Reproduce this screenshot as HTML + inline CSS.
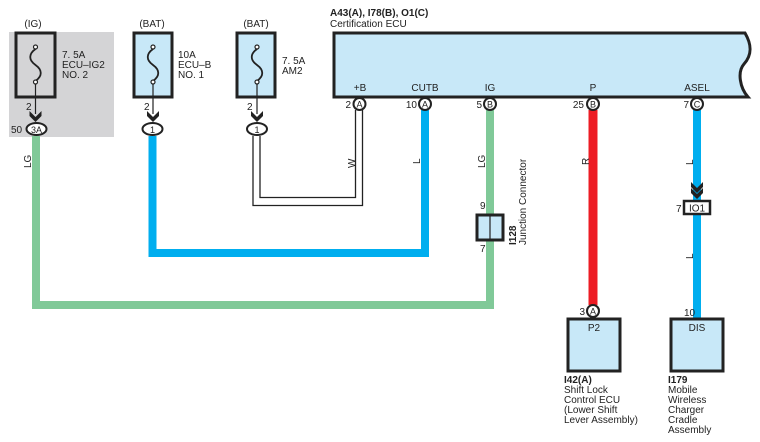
<!DOCTYPE html>
<html><head><meta charset="utf-8"><style>
html,body{margin:0;padding:0;background:#fff;}
svg{display:block;font-family:"Liberation Sans",sans-serif;}
</style></head><body>
<svg width="760" height="442" viewBox="0 0 760 442" xmlns="http://www.w3.org/2000/svg">
<defs>
<g id="fuse"><path d="M0,-13 c-7,5 -7,11 0,16 c7,5 7,11 0,16" fill="none" stroke="#222" stroke-width="1.8"/><circle cx="0" cy="-15" r="2" fill="#fff" stroke="#222" stroke-width="1.2"/><circle cx="0" cy="20" r="2" fill="#fff" stroke="#222" stroke-width="1.2"/></g>
<g id="chev"><path d="M-6,-5 L0,1 L6,-5 L6,0 L0,6 L-6,0 Z" fill="#222"/></g>
</defs>
<rect x="9" y="32" width="105" height="105" fill="#d4d4d6"/>
<path d="M36,136 V305 H490 V110" fill="none" stroke="#80c998" stroke-width="8"/>
<path d="M152.5,136 V253 H425 V110" fill="none" stroke="#00aeef" stroke-width="8"/>
<path d="M253,136 V205.5 H362.5 V110" fill="none" stroke="#222" stroke-width="1.3"/>
<path d="M260,136 V197.5 H355.5 V110" fill="none" stroke="#222" stroke-width="1.3"/>
<path d="M593,110 V305" stroke="#ed1c24" stroke-width="9"/>
<path d="M697,110 V318" stroke="#00aeef" stroke-width="8"/>
<rect x="16" y="33" width="39" height="64" fill="#d4d4d6" stroke="#222" stroke-width="3"/>
<use href="#fuse" x="35.5" y="62"/>
<rect x="134" y="33" width="38" height="64" fill="#c8e8f8" stroke="#222" stroke-width="3"/>
<use href="#fuse" x="153" y="62"/>
<rect x="237" y="33" width="38" height="64" fill="#c8e8f8" stroke="#222" stroke-width="3"/>
<use href="#fuse" x="257" y="62"/>
<g stroke="#222" stroke-width="1.2"><line x1="35.5" y1="84" x2="35.5" y2="114"/><line x1="153" y1="84" x2="153" y2="114"/><line x1="257" y1="84" x2="257" y2="114"/></g>
<use href="#chev" x="35.5" y="116"/><use href="#chev" x="153" y="116"/><use href="#chev" x="257" y="116"/>
<ellipse cx="36.5" cy="129" rx="10" ry="6" fill="#fff" stroke="#222" stroke-width="2"/>
<ellipse cx="152.5" cy="129" rx="10" ry="6" fill="#fff" stroke="#222" stroke-width="2"/>
<ellipse cx="257" cy="129" rx="10" ry="6" fill="#fff" stroke="#222" stroke-width="2"/>
<g font-size="10" fill="#222">
<text x="33" y="27" text-anchor="middle">(IG)</text>
<text x="152" y="27" text-anchor="middle">(BAT)</text>
<text x="256" y="27" text-anchor="middle">(BAT)</text>
<text x="62" y="58">7. 5A</text><text x="62" y="68">ECU–IG2</text><text x="62" y="78">NO. 2</text>
<text x="178" y="58">10A</text><text x="178" y="68">ECU–B</text><text x="178" y="78">NO. 1</text>
<text x="282" y="64">7. 5A</text><text x="282" y="74">AM2</text>
<text x="26" y="110">2</text><text x="144" y="110">2</text><text x="247" y="110">2</text>
<text x="11" y="133">50</text>
<text x="36.5" y="133" text-anchor="middle" font-size="9">3A</text>
<text x="152.5" y="133" text-anchor="middle" font-size="9">1</text>
<text x="257" y="133" text-anchor="middle" font-size="9">1</text>
</g>
<path d="M334,33 H745 C752,45 752,55 744,64 C737,72 740,88 748,97 H334 Z" fill="#c8e8f8" stroke="#222" stroke-width="3"/>
<g font-size="10" fill="#222">
<text x="330" y="16" font-weight="bold">A43(A), I78(B), O1(C)</text>
<text x="330" y="27">Certification ECU</text>
<text x="360" y="91" text-anchor="middle">+B</text>
<text x="425" y="91" text-anchor="middle">CUTB</text>
<text x="490" y="91" text-anchor="middle">IG</text>
<text x="593" y="91" text-anchor="middle">P</text>
<text x="697" y="91" text-anchor="middle">ASEL</text>
</g>
<g fill="#fff" stroke="#222" stroke-width="2">
<circle cx="359.5" cy="104" r="6"/><circle cx="425" cy="104" r="6"/><circle cx="490" cy="104" r="6"/><circle cx="593" cy="104" r="6"/><circle cx="697" cy="104" r="6"/>
<circle cx="593" cy="311" r="6"/>
</g>
<g font-size="9" fill="#222" text-anchor="middle">
<text x="359.5" y="107.5">A</text><text x="425" y="107.5">A</text><text x="490" y="107.5">B</text><text x="593" y="107.5">B</text><text x="697" y="107.5">C</text>
<text x="593" y="314.5">A</text>
</g>
<g font-size="10" fill="#222" text-anchor="end">
<text x="351" y="108">2</text><text x="417" y="108">10</text><text x="482" y="108">5</text><text x="584" y="108">25</text><text x="689" y="108">7</text>
<text x="585" y="315">3</text>
</g>
<g font-size="10" fill="#222">
<text transform="translate(31,168) rotate(-90)">LG</text>
<text transform="translate(355,168) rotate(-90)">W</text>
<text transform="translate(420,164) rotate(-90)">L</text>
<text transform="translate(485,168) rotate(-90)">LG</text>
<text transform="translate(589,165) rotate(-90)">R</text>
<text transform="translate(693,165) rotate(-90)">L</text>
<text transform="translate(693,259) rotate(-90)">L</text>
</g>
<rect x="477" y="215" width="26" height="25" fill="#c8e8f8" stroke="#222" stroke-width="3"/>
<line x1="490" y1="215" x2="490" y2="240" stroke="#222" stroke-width="1.2"/>
<g font-size="10" fill="#222">
<text x="480" y="209">9</text><text x="480" y="252">7</text>
<text transform="translate(516,245) rotate(-90)" font-weight="bold">I128</text>
<text transform="translate(526,245) rotate(-90)">Junction Connector</text>
</g>
<use href="#chev" x="697" y="187"/><use href="#chev" x="697" y="193"/>
<rect x="684" y="201" width="26" height="13" fill="#fff" stroke="#222" stroke-width="2.5"/>
<text x="697" y="211.5" font-size="10" text-anchor="middle" fill="#222">IO1</text>
<text x="676" y="212" font-size="10" fill="#222">7</text>
<rect x="568" y="319" width="52" height="52" fill="#c8e8f8" stroke="#222" stroke-width="3"/>
<rect x="671" y="319" width="52" height="52" fill="#c8e8f8" stroke="#222" stroke-width="3"/>
<g font-size="10" fill="#222">
<text x="594" y="331" text-anchor="middle">P2</text>
<text x="697" y="331" text-anchor="middle">DIS</text>
<text x="684" y="316">10</text>
<text x="564" y="383" font-weight="bold">I42(A)</text>
<text x="564" y="393">Shift Lock</text><text x="564" y="403">Control ECU</text><text x="564" y="413">(Lower Shift</text><text x="564" y="423"> Lever Assembly)</text>
<text x="668" y="383" font-weight="bold">I179</text>
<text x="668" y="393">Mobile</text><text x="668" y="403">Wireless</text><text x="668" y="413">Charger</text><text x="668" y="423">Cradle</text><text x="668" y="433">Assembly</text>
</g>
</svg>
</body></html>
